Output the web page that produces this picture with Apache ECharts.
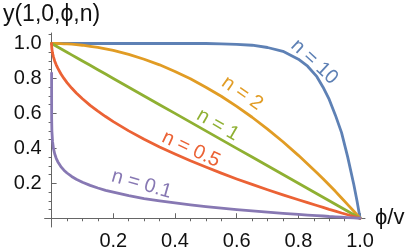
<!DOCTYPE html>
<html><head><meta charset="utf-8">
<script src="https://cdn.jsdelivr.net/npm/echarts@6/dist/echarts.min.js"></script>
<style>html,body{margin:0;padding:0;background:#fff;overflow:hidden}#c{width:409px;height:251px}</style>
</head><body><div id="c"></div>
<script>
// shared x samples (phi/v)
const xs = [0, 0.0002, 0.001, 0.003, 0.006, 0.01, 0.015, 0.02, 0.03, 0.04, 0.05, 0.065, 0.08, 0.1, 0.125, 0.15, 0.175, 0.2, 0.25, 0.3, 0.35, 0.4, 0.45, 0.5, 0.55, 0.6, 0.65, 0.7, 0.75, 0.8, 0.83, 0.86, 0.88, 0.9, 0.92, 0.94, 0.96, 0.98, 0.99, 1.0];
// y values
const yN10 = [1, 1, 1, 1, 1, 1, 1, 1, 1, 1, 1, 1, 1, 1, 1, 1, 1, 1, 1, 1, 1, 1, 1, 1, 0.998, 0.995, 0.99, 0.977, 0.955, 0.91, 0.87, 0.81, 0.75, 0.68, 0.59, 0.49, 0.35, 0.19, 0.1, 0];
const yN2 = [1, 1, 1, 1, 1, 1, 1, 1, 0.999, 0.998, 0.998, 0.996, 0.994, 0.99, 0.984, 0.978, 0.969, 0.96, 0.938, 0.91, 0.878, 0.84, 0.798, 0.75, 0.698, 0.64, 0.578, 0.51, 0.438, 0.36, 0.311, 0.26, 0.226, 0.19, 0.154, 0.116, 0.078, 0.04, 0.02, 0];
const yN1 = [1, 1, 0.999, 0.997, 0.994, 0.99, 0.985, 0.98, 0.97, 0.96, 0.95, 0.935, 0.92, 0.9, 0.875, 0.85, 0.825, 0.8, 0.75, 0.7, 0.65, 0.6, 0.55, 0.5, 0.45, 0.4, 0.35, 0.3, 0.25, 0.2, 0.17, 0.14, 0.12, 0.1, 0.08, 0.06, 0.04, 0.02, 0.01, 0];
const yN05 = [1, 0.986, 0.968, 0.945, 0.923, 0.9, 0.878, 0.859, 0.827, 0.8, 0.776, 0.745, 0.717, 0.684, 0.646, 0.613, 0.582, 0.553, 0.5, 0.452, 0.408, 0.368, 0.329, 0.293, 0.258, 0.225, 0.194, 0.163, 0.134, 0.106, 0.089, 0.073, 0.062, 0.051, 0.041, 0.03, 0.02, 0.01, 0.005, 0];
const yN01 = [0.83, 0.573, 0.499, 0.441, 0.4, 0.369, 0.343, 0.324, 0.296, 0.275, 0.259, 0.239, 0.223, 0.206, 0.188, 0.173, 0.16, 0.149, 0.129, 0.113, 0.1, 0.088, 0.077, 0.067, 0.058, 0.05, 0.042, 0.035, 0.028, 0.022, 0.018, 0.015, 0.013, 0.01, 0.008, 0.006, 0.004, 0.002, 0.001, 0];

const seriesNames = ['n = 10', 'n = 2', 'n = 1', 'n = 0.5', 'n = 0.1'];
const seriesY = [yN10, yN2, yN1, yN05, yN01];
const colors = ['#5E81B5', '#E19C24', '#8FB032', '#EB6235', '#8778B3'];

const xMajor = [0.2, 0.4, 0.6, 0.8, 1.0];
const xMinor = [0.05, 0.1, 0.15, 0.25, 0.3, 0.35, 0.45, 0.5, 0.55, 0.65, 0.7, 0.75, 0.85, 0.9, 0.95];
const yMajor = [0.2, 0.4, 0.6, 0.8, 1.0];
const yMinor = [0.05, 0.1, 0.15, 0.25, 0.3, 0.35, 0.45, 0.5, 0.55, 0.65, 0.7, 0.75, 0.85, 0.9, 0.95, 1.05];

// curve label anchors (data coords) and rotations (deg, clockwise)
const labelX = [0.852, 0.618, 0.539, 0.452, 0.292];
const labelY = [0.895, 0.715, 0.533, 0.395, 0.195];
const labelRot = [43, 35, 30, 25, 16];

const FONT = "'Liberation Sans', Arial, sans-serif";
const AX = '#666';
const XMIN = -0.0226, XMAX = 1.016, YMIN = -0.05, YMAX = 1.06;

const chart = echarts.init(document.getElementById('c'), null, {renderer: 'canvas'});

function xAxisCfg(major) {
  return {
    type: 'value', min: XMIN, max: XMAX, gridIndex: 0,
    name: major ? 'ϕ/v' : '', nameLocation: 'end', nameGap: 10,
    nameTextStyle: {fontFamily: FONT, fontSize: 22, color: '#111', verticalAlign: 'middle', align: 'left'},
    axisLine: {show: major, onZero: true, onZeroAxisIndex: major ? 0 : 1, lineStyle: {color: AX, width: 1}},
    axisTick: {show: true, inside: true, length: major ? 5 : 3, customValues: major ? xMajor : xMinor, lineStyle: {color: AX, width: 1}},
    axisLabel: {show: major, customValues: xMajor, formatter: v => v.toFixed(1), margin: 4, fontFamily: FONT, fontSize: 20, color: '#111'},
    splitLine: {show: false}
  };
}
function yAxisCfg(major) {
  return {
    type: 'value', min: YMIN, max: YMAX, gridIndex: 0,
    name: major ? 'y(1,0,ϕ,n)' : '', nameLocation: 'end', nameGap: 7,
    nameTextStyle: {fontFamily: FONT, fontSize: 23, color: '#111', align: 'center'},
    axisLine: {show: major, onZero: true, onZeroAxisIndex: major ? 0 : 1, lineStyle: {color: AX, width: 1}},
    axisTick: {show: true, inside: true, length: major ? 5 : 3, customValues: major ? yMajor : yMinor, lineStyle: {color: AX, width: 1}},
    axisLabel: {show: major, customValues: yMajor, formatter: v => v.toFixed(1), margin: 3, fontFamily: FONT, fontSize: 20, color: '#111'},
    splitLine: {show: false}
  };
}

chart.setOption({
  animation: false,
  backgroundColor: '#fff',
  grid: {left: 43, right: 44, top: 33, bottom: 18, containLabel: false},
  xAxis: [xAxisCfg(true), xAxisCfg(false)],
  yAxis: [yAxisCfg(true), yAxisCfg(false)],
  series: seriesNames.map((nm, i) => ({
    name: nm, type: 'line', xAxisIndex: 0, yAxisIndex: 0,
    showSymbol: false, symbol: 'none', smooth: false, clip: false,
    lineStyle: {color: colors[i], width: 2.8, join: 'round', cap: 'round'},
    data: xs.map((x, k) => [x, seriesY[i][k]])
  }))
});

chart.setOption({
  graphic: seriesNames.map((nm, i) => {
    const p = chart.convertToPixel({gridIndex: 0}, [labelX[i], labelY[i]]);
    return {
      type: 'text', x: p[0], y: p[1], rotation: -labelRot[i] * Math.PI / 180,
      style: {text: nm, fill: colors[i], font: "20px " + FONT, align: 'center', verticalAlign: 'middle'}
    };
  })
});
</script>
</body></html>
